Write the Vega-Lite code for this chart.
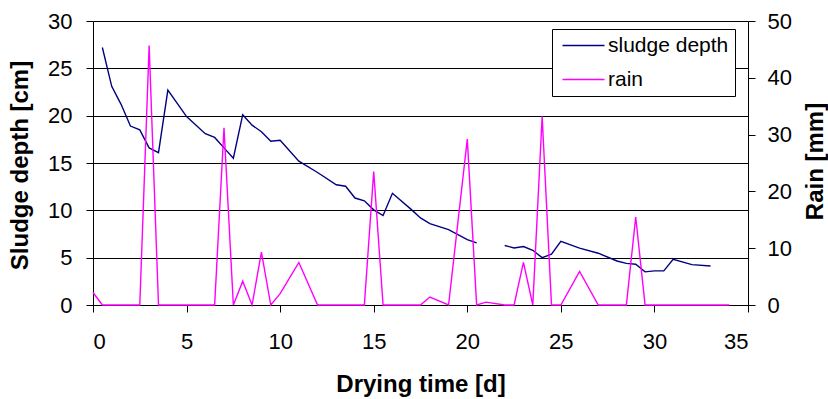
{
  "$schema": "https://vega.github.io/schema/vega-lite/v6.json",
  "width": 655,
  "height": 284,
  "autosize": {"type": "none"},
  "padding": {"left": 93, "top": 21, "right": 80, "bottom": 94},
  "background": "white",
  "config": {
    "font": "Liberation Sans",
    "view": {"stroke": null},
    "axis": {
      "domainColor": "#000",
      "tickColor": "#000",
      "labelColor": "#000",
      "titleColor": "#000",
      "labelFont": "Liberation Sans",
      "titleFont": "Liberation Sans",
      "labelFontSize": 22,
      "titleFontSize": 24,
      "titleFontWeight": "bold",
      "tickSize": 7,
      "grid": false
    }
  },
  "datasets": {
    "depth": [
      {"day": 0.5, "depth": 27.2}, {"day": 1, "depth": 23.1}, {"day": 1.5, "depth": 21.2},
      {"day": 2, "depth": 18.9}, {"day": 2.5, "depth": 18.5}, {"day": 3, "depth": 16.6},
      {"day": 3.5, "depth": 16.1}, {"day": 4, "depth": 22.7}, {"day": 5, "depth": 19.9},
      {"day": 6, "depth": 18.1}, {"day": 6.5, "depth": 17.7}, {"day": 7, "depth": 16.6},
      {"day": 7.5, "depth": 15.5}, {"day": 8, "depth": 20.1}, {"day": 8.5, "depth": 19.0},
      {"day": 9, "depth": 18.3}, {"day": 9.5, "depth": 17.3}, {"day": 10, "depth": 17.4},
      {"day": 11, "depth": 15.2}, {"day": 12, "depth": 14.0}, {"day": 13, "depth": 12.7},
      {"day": 13.5, "depth": 12.55}, {"day": 14, "depth": 11.3}, {"day": 14.5, "depth": 11.0},
      {"day": 15, "depth": 10.05}, {"day": 15.5, "depth": 9.45}, {"day": 16, "depth": 11.8},
      {"day": 17, "depth": 10.1}, {"day": 17.5, "depth": 9.2}, {"day": 18, "depth": 8.6},
      {"day": 19, "depth": 7.97}, {"day": 20, "depth": 6.9}, {"day": 20.5, "depth": 6.56},
      {"day": 21.5, "depth": null},
      {"day": 22, "depth": 6.28}, {"day": 22.5, "depth": 6.03}, {"day": 23, "depth": 6.17},
      {"day": 23.5, "depth": 5.78}, {"day": 24, "depth": 5.0}, {"day": 24.5, "depth": 5.36},
      {"day": 25, "depth": 6.73}, {"day": 26, "depth": 6.0}, {"day": 27, "depth": 5.47},
      {"day": 28, "depth": 4.65}, {"day": 28.5, "depth": 4.4}, {"day": 29, "depth": 4.3},
      {"day": 29.5, "depth": 3.5}, {"day": 30, "depth": 3.6}, {"day": 30.5, "depth": 3.6},
      {"day": 31, "depth": 4.83}, {"day": 32, "depth": 4.26}, {"day": 33, "depth": 4.12}
    ],
    "rain": [
      {"day": 0, "rain": 2.2}, {"day": 0.5, "rain": 0}, {"day": 2.5, "rain": 0},
      {"day": 3, "rain": 45.7}, {"day": 3.5, "rain": 0}, {"day": 6.5, "rain": 0},
      {"day": 7, "rain": 31.2}, {"day": 7.5, "rain": 0}, {"day": 8, "rain": 4.2},
      {"day": 8.5, "rain": 0}, {"day": 9, "rain": 9.3}, {"day": 9.5, "rain": 0},
      {"day": 10, "rain": 2.0}, {"day": 11, "rain": 7.5}, {"day": 12, "rain": 0},
      {"day": 14.5, "rain": 0}, {"day": 15, "rain": 23.5}, {"day": 15.5, "rain": 0},
      {"day": 17.5, "rain": 0}, {"day": 18, "rain": 1.4}, {"day": 19, "rain": 0},
      {"day": 20, "rain": 29.2}, {"day": 20.5, "rain": 0}, {"day": 21, "rain": 0.5},
      {"day": 22, "rain": 0}, {"day": 22.5, "rain": 0}, {"day": 23, "rain": 7.5},
      {"day": 23.5, "rain": 0}, {"day": 24, "rain": 33.2}, {"day": 24.5, "rain": 0},
      {"day": 25, "rain": 0}, {"day": 26, "rain": 5.9}, {"day": 27, "rain": 0},
      {"day": 28.5, "rain": 0}, {"day": 29, "rain": 15.5}, {"day": 29.5, "rain": 0},
      {"day": 34, "rain": 0}
    ]
  },
  "layer": [
    {
      "data": {"name": "depth"},
      "mark": {"type": "line", "strokeWidth": 1.4, "invalid": "break-paths-show-domains"},
      "encoding": {
        "x": {
          "field": "day", "type": "quantitative",
          "scale": {"domain": [0, 35], "nice": false},
          "axis": {
            "values": [0, 5, 10, 15, 20, 25, 30, 35],
            "labelPadding": 19,
            "title": "Drying time [d]",
            "titleY": 79,
            "titleBaseline": "middle"
          }
        },
        "y": {
          "field": "depth", "type": "quantitative",
          "scale": {"domain": [0, 30], "nice": false},
          "axis": {
            "values": [0, 5, 10, 15, 20, 25, 30],
            "grid": true,
            "gridColor": "#000",
            "gridWidth": 1,
            "gridOpacity": 1,
            "labelPadding": 14,
            "title": "Sludge depth [cm]",
            "titleAngle": -90,
            "titleX": -73,
            "titleY": 144,
            "titleBaseline": "middle",
            "titleAlign": "center"
          }
        },
        "color": {
          "datum": "sludge depth", "type": "nominal",
          "scale": {"domain": ["sludge depth", "rain"], "range": ["#000080", "#FF00FF"]},
          "legend": {
            "title": null,
            "orient": "none",
            "legendX": 459,
            "legendY": 8,
            "padding": 6,
            "strokeColor": "#000",
            "fillColor": "#fff",
            "cornerRadius": 0,
            "labelFontSize": 21,
            "labelColor": "#000",
            "labelFont": "Liberation Sans",
            "symbolType": "M-3,0H3",
            "symbolSize": 196,
            "symbolStrokeWidth": 1.5,
            "symbolFillColor": "transparent",
            "symbolOffset": 15,
            "labelOffset": 14,
            "rowPadding": 12
          }
        }
      }
    },
    {
      "data": {"name": "rain"},
      "mark": {"type": "line", "strokeWidth": 1.4},
      "encoding": {
        "x": {"field": "day", "type": "quantitative"},
        "y": {
          "field": "rain", "type": "quantitative",
          "scale": {"domain": [0, 50], "nice": false},
          "axis": {
            "orient": "right",
            "values": [0, 10, 20, 30, 40, 50],
            "grid": false,
            "labelPadding": 12,
            "title": "Rain [mm]",
            "titleFontSize": 24,
            "titleAngle": -90,
            "titleX": 67,
            "titleY": 140,
            "titleBaseline": "middle",
            "titleAlign": "center"
          }
        },
        "color": {"datum": "rain", "type": "nominal"}
      }
    }
  ],
  "resolve": {"scale": {"y": "independent"}}
}
